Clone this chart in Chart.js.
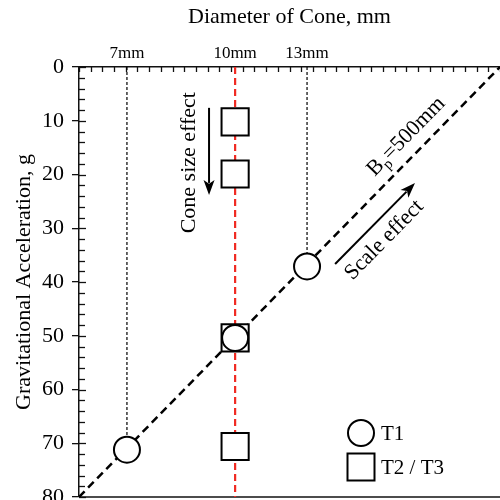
<!DOCTYPE html>
<html><head><meta charset="utf-8">
<script src="https://cdn.jsdelivr.net/npm/chart.js@4"></script>
<style>html,body{margin:0;padding:0;background:#fff}</style>
</head><body>
<canvas id="c" width="500" height="500" style="display:block;width:500px;height:500px"></canvas>
<script>
// ---- data ----
const diameterLabels = ['7mm', '10mm', '13mm'];
const diameterPos = [4.1, 13.35, 19.5];          // position on the (scaled) top axis
const t1Accel = [71.2, 50.4, 37.1];              // T1 tests (one per cone diameter)
const t23Diameter = [13.35, 13.35, 13.35, 13.35];
const t23Accel = [10.2, 19.9, 50.4, 70.6];       // T2 / T3 tests (10mm cone)
const prototypeLineX = [0, 36];                  // Bp = 500mm line
const prototypeLineY = [80, 0];
const yTickValues = [0, 10, 20, 30, 40, 50, 60, 70, 80];
const yMinorStep = 2;
const xAxisMin = 0, xAxisMax = 36, xMinorStep = 1;

const SERIF = '"Liberation Serif", "Times New Roman", serif';
const INK = '#111';

function pts(xs, ys) { return xs.map((x, i) => ({x: x, y: ys[i]})); }

const verticalGuides = [];
// dotted guides from axis to T1 points at 7mm and 13mm
[0, 2].forEach(i => {
  verticalGuides.push({
    type: 'line', data: [{x: diameterPos[i], y: 0}, {x: diameterPos[i], y: t1Accel[i]}],
    borderColor: '#000', borderWidth: 1.2, borderDash: [3, 2], pointRadius: 0, order: 5, fill: false
  });
});

function drawArrow(ctx, x1, y1, x2, y2, len, half) {
  const a = Math.atan2(y2 - y1, x2 - x1);
  ctx.beginPath();
  ctx.moveTo(x1, y1);
  ctx.lineTo(x2 - Math.cos(a) * len * 0.8, y2 - Math.sin(a) * len * 0.8);
  ctx.stroke();
  ctx.beginPath();
  ctx.moveTo(x2, y2);
  ctx.lineTo(x2 - Math.cos(a) * len - Math.sin(a) * half, y2 - Math.sin(a) * len + Math.cos(a) * half);
  ctx.lineTo(x2 - Math.cos(a) * len * 0.75, y2 - Math.sin(a) * len * 0.75);
  ctx.lineTo(x2 - Math.cos(a) * len + Math.sin(a) * half, y2 - Math.sin(a) * len - Math.cos(a) * half);
  ctx.closePath();
  ctx.fill();
}

const decor = {
  id: 'decor',
  beforeDatasetsDraw(chart) {
    const {ctx, chartArea: ca, scales: {x, y}} = chart;
    ctx.save();
    ctx.strokeStyle = INK;
    ctx.lineWidth = 1.3;
    // top axis minor ticks (inward)
    for (let v = xAxisMin; v <= xAxisMax + 1e-9; v += xMinorStep) {
      const px = Math.round(x.getPixelForValue(v)) + 0.5;
      ctx.beginPath(); ctx.moveTo(px, ca.top); ctx.lineTo(px, ca.top + 5); ctx.stroke();
    }
    // left axis inner ticks
    for (let v = 0; v <= 80 + 1e-9; v += yMinorStep) {
      const py = Math.round(y.getPixelForValue(v)) + 0.5;
      const major = v % 10 === 0;
      ctx.beginPath(); ctx.moveTo(ca.left, py); ctx.lineTo(ca.left + (major ? 7 : 6), py); ctx.stroke();
    }
    // bottom frame line
    ctx.lineWidth = 1.5;
    ctx.beginPath(); ctx.moveTo(ca.left, ca.bottom); ctx.lineTo(ca.right, ca.bottom); ctx.stroke();
    ctx.restore();
  },
  afterDatasetsDraw(chart) {
    const {ctx, scales: {x, y}} = chart;
    ctx.save();
    ctx.fillStyle = '#000';
    ctx.strokeStyle = '#000';
    ctx.textAlign = 'center';
    ctx.textBaseline = 'middle';
    ctx.font = '22px ' + SERIF;

    // Cone size effect
    ctx.save();
    ctx.translate(x.getPixelForValue(9.4), y.getPixelForValue(17.8));
    ctx.rotate(-Math.PI / 2);
    ctx.fillText('Cone size effect', 0, 0);
    ctx.restore();
    ctx.lineWidth = 2;
    drawArrow(ctx, x.getPixelForValue(11.12), y.getPixelForValue(7.6),
                   x.getPixelForValue(11.12), y.getPixelForValue(23.8), 15, 5.5);

    // Scale effect
    const ang = -Math.atan2(chart.chartArea.bottom - chart.chartArea.top, chart.chartArea.right - chart.chartArea.left);
    ctx.save();
    ctx.translate(x.getPixelForValue(26.1), y.getPixelForValue(32.2));
    ctx.rotate(ang);
    ctx.fillText('Scale effect', 0, 0);
    ctx.restore();
    drawArrow(ctx, x.getPixelForValue(21.9), y.getPixelForValue(36.65),
                   x.getPixelForValue(28.73), y.getPixelForValue(21.6), 15, 5.5);

    // Bp = 500mm
    ctx.save();
    ctx.translate(x.getPixelForValue(27.9), y.getPixelForValue(12.8));
    ctx.rotate(ang);
    ctx.textAlign = 'left';
    ctx.textBaseline = 'alphabetic';
    const big = '22px ' + SERIF, small = '15px ' + SERIF;
    ctx.font = big; const wB = ctx.measureText('B').width;
    ctx.font = small; const wp = ctx.measureText('p').width;
    ctx.font = big; const wR = ctx.measureText('=500mm').width;
    let sx = -(wB + wp + wR) / 2;
    ctx.font = big; ctx.fillText('B', sx, 7); sx += wB;
    ctx.font = small; ctx.fillText('p', sx, 12); sx += wp;
    ctx.font = big; ctx.fillText('=500mm', sx, 7);
    ctx.restore();

    // legend
    ctx.lineWidth = 2;
    ctx.fillStyle = '#fff';
    ctx.beginPath(); ctx.arc(361, 433, 13, 0, Math.PI * 2); ctx.fill(); ctx.stroke();
    ctx.fillRect(347.5, 453.5, 27, 27); ctx.strokeRect(347.5, 453.5, 27, 27);
    ctx.fillStyle = '#000';
    ctx.textAlign = 'left';
    ctx.textBaseline = 'middle';
    ctx.font = '21px ' + SERIF;
    ctx.fillText('T1', 381, 434);
    ctx.fillText('T2 / T3', 381, 468);
    ctx.restore();
  }
};

new Chart(document.getElementById('c'), {
  type: 'scatter',
  data: {
    datasets: [
      {
        label: 'T1', data: pts(diameterPos, t1Accel), pointStyle: 'circle',
        pointRadius: 13, pointHoverRadius: 13, pointBackgroundColor: '#fff',
        pointBorderColor: '#000', pointBorderWidth: 2, showLine: false, order: 0
      },
      {
        label: 'T2 / T3', data: pts(t23Diameter, t23Accel), pointStyle: 'rect',
        pointRadius: 19.2, pointHoverRadius: 19.2, pointBackgroundColor: '#fff',
        pointBorderColor: '#000', pointBorderWidth: 2, showLine: false, order: 1
      },
      {
        type: 'line', label: 'Bp=500mm', data: pts(prototypeLineX, prototypeLineY),
        borderColor: '#000', borderWidth: 2.5, borderDash: [8, 5], pointRadius: 0, order: 4, fill: false
      },
      {
        type: 'line', label: '10mm', data: [{x: diameterPos[1], y: 0}, {x: diameterPos[1], y: 80}],
        borderColor: '#f02a22', borderWidth: 2.2, borderDash: [7, 4], pointRadius: 0, order: 6, fill: false
      },
      ...verticalGuides
    ]
  },
  options: {
    responsive: false,
    animation: false,
    events: [],
    layout: {autoPadding: false, padding: {left: 0, right: 0, top: 0, bottom: 3}},
    plugins: {legend: {display: false}, tooltip: {enabled: false}},
    scales: {
      x: {
        type: 'linear', position: 'top', min: xAxisMin, max: xAxisMax,
        afterFit(s) { s.height = 67; s.paddingLeft = 0; s.paddingRight = 0; },
        afterBuildTicks(s) { s.ticks = diameterPos.map(v => ({value: v})); },
        ticks: {
          autoSkip: false, maxRotation: 0, padding: 3, color: '#000',
          font: {family: SERIF, size: 17},
          callback: (v, i) => diameterLabels[i]
        },
        grid: {display: false, drawTicks: false},
        border: {display: true, color: INK, width: 1.5},
        title: {display: true, text: 'Diameter of Cone, mm', color: '#000',
                font: {family: SERIF, size: 22}, padding: {top: 4, bottom: 0}}
      },
      y: {
        type: 'linear', reverse: true, min: 0, max: 80,
        afterFit(s) { s.width = 79; s.paddingTop = 0; s.paddingBottom = 0; },
        afterBuildTicks(s) { s.ticks = yTickValues.map(v => ({value: v})); },
        ticks: {color: '#000', font: {family: SERIF, size: 22}, padding: 8},
        grid: {drawOnChartArea: false, drawTicks: true, tickLength: 7, color: INK, lineWidth: 1.3},
        border: {display: true, color: INK, width: 1.5},
        title: {display: true, text: 'Gravitational Acceleration, g', color: '#000',
                font: {family: SERIF, size: 22}, padding: {top: 11, bottom: 0}}
      }
    }
  },
  plugins: [decor]
});
</script>
</body></html>
